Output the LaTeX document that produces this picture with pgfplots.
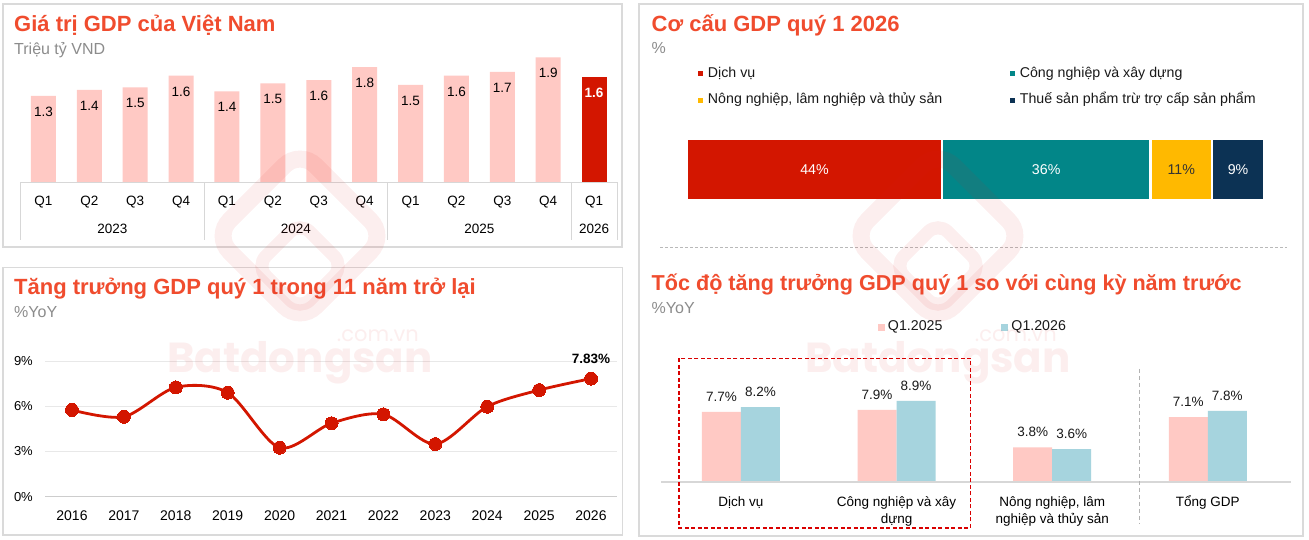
\documentclass[border=0pt]{standalone}
\usepackage{fontspec}
\setmainfont{Liberation Sans}
\newfontfamily\wmfont{Poppins}
\usepackage{pgfplots}
\pgfplotsset{compat=1.18}

\definecolor{titleC}{RGB}{240,76,46}
\definecolor{subC}{RGB}{140,140,140}
\definecolor{frameC}{RGB}{218,218,218}
\definecolor{tableC}{RGB}{215,215,215}
\definecolor{gridC}{RGB}{232,232,232}
\definecolor{zeroC}{RGB}{205,205,205}
\definecolor{barPink}{RGB}{255,201,196}
\definecolor{barRed}{RGB}{211,22,0}
\definecolor{tealC}{RGB}{2,134,136}
\definecolor{amberC}{RGB}{255,185,0}
\definecolor{navyC}{RGB}{12,50,84}
\definecolor{lblue}{RGB}{166,212,222}
\definecolor{wmC}{RGB}{220,30,30}

\newcommand\tfont{\fontsize{22}{26}\selectfont\bfseries}
\newcommand\sfont{\fontsize{16}{19}\selectfont}
\newcommand\lfont{\fontsize{13.5}{17}\selectfont}
\newcommand\gfont{\fontsize{14.2}{17}\selectfont}

\pgfplotsset{/pgf/number format/assume math mode=true}

\begin{document}
\begin{tikzpicture}[x=1pt,y=1pt]
\useasboundingbox (0,0) rectangle (1309,540);
\fill[white] (0,0) rectangle (1309,540);

% panel frames
\draw[frameC, line width=1.5pt] (3,536) rectangle (622,293);
\draw[frameC, line width=1.5pt] (3,272.7) rectangle (622.5,5);
\draw[frameC, line width=1.5pt] (639,536) rectangle (1303,4);
\draw[frameC!85!black, line width=0.8pt, dash pattern=on 3pt off 2pt] (660,293) -- (1287,293);

% titles
\node[anchor=base west, inner sep=0pt, font=\tfont, text=titleC] at (14,508.3) {Giá trị GDP của Việt Nam};
\node[anchor=base west, inner sep=0pt, font=\sfont, text=subC] at (14,485.7) {Triệu tỷ VND};
\node[anchor=base west, inner sep=0pt, font=\tfont, text=titleC] at (14,245) {Tăng trưởng GDP quý 1 trong 11 năm trở lại};
\node[anchor=base west, inner sep=0pt, font=\sfont, text=subC] at (14,222.7) {\%YoY};
\node[anchor=base west, inner sep=0pt, font=\tfont, text=titleC] at (651.5,508.3) {Cơ cấu GDP quý 1 2026};
\node[anchor=base west, inner sep=0pt, font=\sfont, text=subC] at (651.5,486) {\%};
\node[anchor=base west, inner sep=0pt, font=\fontsize{21.6}{26}\selectfont\bfseries, text=titleC] at (651.5,249.6) {Tốc độ tăng trưởng GDP quý 1 so với cùng kỳ năm trước};
\node[anchor=base west, inner sep=0pt, font=\sfont, text=subC] at (651.5,226.6) {\%YoY};

% ---------- GDP value by quarter ----------
\begin{axis}[at={(20.5pt,357.7pt)}, anchor=south west, scale only axis,
  width=596.5pt, height=130pt,
  xmin=-0.5, xmax=12.5, ymin=0, ymax=2,
  ybar, bar width=25pt,
  axis line style={draw=none}, major tick length=0pt, ytick=\empty,
  xtick={0,...,12},
  xticklabels={Q1,Q2,Q3,Q4,Q1,Q2,Q3,Q4,Q1,Q2,Q3,Q4,Q1},
  xticklabel style={font=\lfont, inner sep=0pt, anchor=base, yshift=-23.7pt},
  clip=false,
  nodes near coords={\pgfmathprintnumber[fixed,precision=1,fixed zerofill,assume math mode=true]{\pgfplotspointmeta}},
  every node near coord/.append style={font=\lfont, anchor=center, yshift=-15.7pt, inner sep=0pt, text=black},
]
\addplot[fill=barPink, draw=none, bar shift=0pt] coordinates {
  (0,1.33) (1,1.42) (2,1.46) (3,1.64) (4,1.40) (5,1.52) (6,1.57) (7,1.77)
  (8,1.50) (9,1.64) (10,1.70) (11,1.92)};
\addplot[fill=barRed, draw=none, bar shift=0pt,
  every node near coord/.append style={text=white, font=\lfont\bfseries}] coordinates {(12,1.62)};
\draw[tableC, line width=1pt] (axis cs:-0.5,0) -- (axis cs:12.5,0);
\draw[tableC, line width=1pt] (axis cs:-0.5,0) -- ++(0pt,-58pt);
\draw[tableC, line width=1pt] (axis cs:3.5,0) -- ++(0pt,-58pt);
\draw[tableC, line width=1pt] (axis cs:7.5,0) -- ++(0pt,-58pt);
\draw[tableC, line width=1pt] (axis cs:11.5,0) -- ++(0pt,-58pt);
\draw[tableC, line width=1pt] (axis cs:12.5,0) -- ++(0pt,-58pt);
\node[font=\lfont, yshift=-46.4pt] at (axis cs:1.5,0) {2023};
\node[font=\lfont, yshift=-46.4pt] at (axis cs:5.5,0) {2024};
\node[font=\lfont, yshift=-46.4pt] at (axis cs:9.5,0) {2025};
\node[font=\lfont, yshift=-46.4pt] at (axis cs:12,0) {2026};
\end{axis}

% ---------- Q1 growth, 11 years ----------
\begin{axis}[at={(45pt,43.3pt)}, anchor=south west, scale only axis,
  width=572pt, height=150.8pt,
  xmin=2015.48, xmax=2026.5, ymin=0, ymax=10,
  axis line style={draw=none}, major tick length=0pt,
  ytick={0,3,6,9}, yticklabels={0\%,3\%,6\%,9\%},
  ymajorgrids, grid style={gridC, line width=0.8pt},
  xtick={2016,...,2026},
  xticklabels={2016,2017,2018,2019,2020,2021,2022,2023,2024,2025,2026},
  xticklabel style={font=\fontsize{14}{17}\selectfont, inner sep=0pt, anchor=base, yshift=-23.6pt},
  yticklabel style={font=\fontsize{13}{16}\selectfont, inner sep=0pt, anchor=east, xshift=-12pt},
  clip=false,
]
\draw[zeroC, line width=1pt] (axis cs:2015.48,0) -- (axis cs:2026.5,0);
\addplot[barRed, line width=2.8pt, smooth, mark=*, mark size=6.5pt,
  mark options={fill=barRed, draw=barRed, line width=0pt}] coordinates {
  (2016,5.75) (2017,5.30) (2018,7.25) (2019,6.90) (2020,3.25) (2021,4.87)
  (2022,5.46) (2023,3.49) (2024,5.97) (2025,7.07) (2026,7.83)};
\node[font=\lfont\bfseries, anchor=base, inner sep=0pt, yshift=14.7pt] at (axis cs:2026,7.83) {7.83\%};
\end{axis}

% ---------- GDP structure Q1 2026 ----------
\begin{axis}[at={(687pt,320.5pt)}, anchor=south west, scale only axis,
  width=577pt, height=100pt,
  xmin=0, xmax=100, ymin=-1, ymax=1,
  hide axis, xbar stacked, bar width=61.4pt, clip=false,
  legend columns=2, legend cell align=left,
  legend image code/.code={\fill[#1] (0pt,-3.5pt) rectangle (7pt,3.5pt);},
  legend style={at={(axis description cs:0.0157,1.522)}, anchor=north west,
    draw=none, fill=none, inner sep=0pt, outer sep=0pt, row sep=13.7pt,
    font=\gfont, text=black!90,
    nodes={inner sep=0pt, text height=10pt, text depth=3pt},
    /tikz/every odd column/.append style={column sep=2.5pt},
    /tikz/every even column/.append style={column sep=65.5pt}},
]
\addplot[fill=barRed, draw=white, line width=2.4pt] coordinates {(44.2,0)};
\addlegendentry{Dịch vụ}
\addplot[fill=tealC, draw=white, line width=2.4pt] coordinates {(36.1,0)};
\addlegendentry{Công nghiệp và xây dựng}
\addplot[fill=amberC, draw=white, line width=2.4pt] coordinates {(10.7,0)};
\addlegendentry{Nông nghiệp, lâm nghiệp và thủy sản}
\addplot[fill=navyC, draw=white, line width=2.4pt] coordinates {(9.0,0)};
\addlegendentry{Thuế sản phẩm trừ trợ cấp sản phẩm}
\coordinate (s1) at (axis cs:22.1,0);
\coordinate (s2) at (axis cs:62.25,0);
\coordinate (s3) at (axis cs:85.65,0);
\coordinate (s4) at (axis cs:95.5,0);
\end{axis}
\node[font=\gfont, text=white] at (s1) {44\%};
\node[font=\gfont, text=white] at (s2) {36\%};
\node[font=\gfont, text=black!80] at (s3) {11\%};
\node[font=\gfont, text=white] at (s4) {9\%};

% ---------- Q1 growth by sector ----------
\begin{axis}[at={(661pt,58pt)}, anchor=south west, scale only axis,
  width=630pt, height=91.2pt,
  xmin=-0.514, xmax=3.535, ymin=0, ymax=10,
  ybar=0pt, bar width=39pt,
  axis line style={draw=none}, major tick length=0pt, ytick=\empty,
  xtick={0,1,2,3},
  xticklabels={Dịch vụ, Công nghiệp và xây\\dựng, {Nông nghiệp, lâm\\nghiệp và thủy sản}, Tổng GDP},
  typeset ticklabels with strut,
  xticklabel style={font=\lfont, align=center, inner sep=0pt, anchor=north, yshift=-12pt},
  clip=false,
  nodes near coords={\pgfmathprintnumber[fixed,precision=1,fixed zerofill,assume math mode=true]{\pgfplotspointmeta}\%},
  every node near coord/.append style={font=\lfont, anchor=base, inner sep=0pt, yshift=10.6pt, text=black!90},
  legend columns=2, legend cell align=left,
  legend image code/.code={\fill[#1] (0pt,-3.5pt) rectangle (7pt,3.5pt);},
  legend style={at={(axis description cs:0.3444,1.769)}, anchor=north west,
    draw=none, fill=none, inner sep=0pt, outer sep=0pt,
    font=\gfont, text=black!90,
    nodes={inner sep=0pt, text height=10pt, text depth=3pt},
    /tikz/every odd column/.append style={column sep=3pt},
    /tikz/every even column/.append style={column sep=59pt}},
]
\addplot[fill=barPink, draw=none] coordinates {(0,7.7) (1,7.9) (2,3.8) (3,7.1)};
\addlegendentry{Q1.2025}
\addplot[fill=lblue, draw=none] coordinates {(0,8.2) (1,8.9) (2,3.6) (3,7.8)};
\addlegendentry{Q1.2026}
\draw[tableC, line width=1.2pt] (axis cs:-0.514,0) -- (axis cs:3.535,0);
\end{axis}

% separators and highlight
\draw[black!30, line width=0.9pt, dash pattern=on 4pt off 3pt] (1139.3,171) -- (1139.3,16);
\draw[red!85!black, line width=1.1pt, dash pattern=on 4pt off 2.5pt] (679,181.7) rectangle (970.7,12);

% watermark
\begin{scope}[opacity=0.075, wmC]
  \foreach \cx in {300,938} {
    \draw[line width=17pt, rounded corners=22pt] (\cx,390) -- (\cx+86,304) -- (\cx,218) -- (\cx-86,304) -- cycle;
    \draw[line width=13pt, rounded corners=14pt] (\cx,318) -- (\cx+44,274) -- (\cx,230) -- (\cx-44,274) -- cycle;
    \node[anchor=base, inner sep=0pt, font=\wmfont\bfseries\fontsize{42}{44}\selectfont] at (\cx,167) {Batdongsan};
    \node[anchor=base east, inner sep=0pt, font=\wmfont\fontsize{21}{24}\selectfont] at (\cx+119,198) {.com.vn};
  }
\end{scope}
\end{tikzpicture}
\end{document}
